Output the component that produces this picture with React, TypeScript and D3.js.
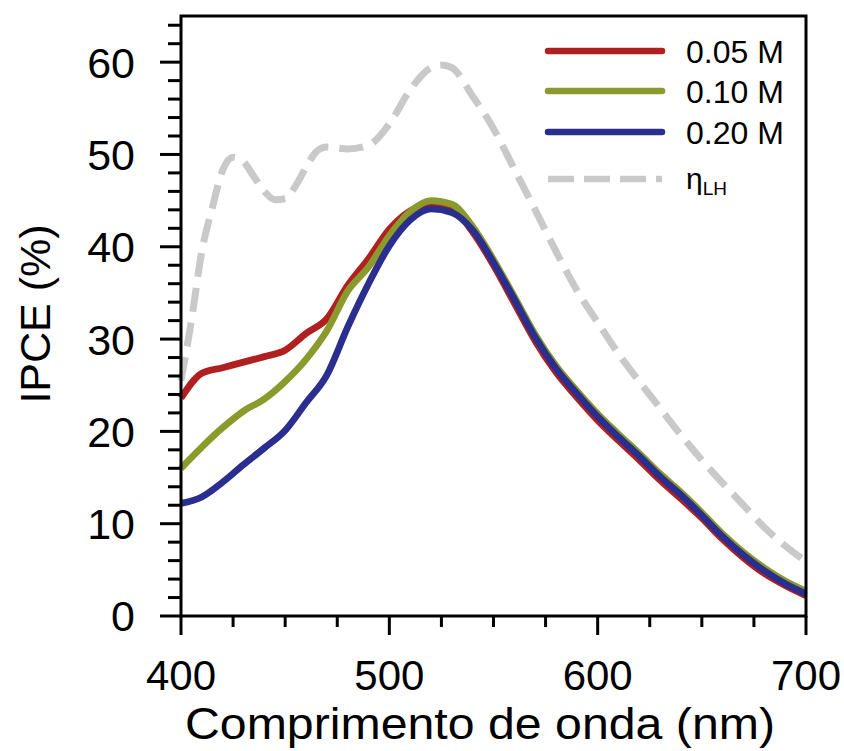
import React from "react";
import * as d3 from "d3";

const wavelengths = [400, 410, 420, 430, 440, 450, 460, 470, 480, 490, 500, 510, 520, 530, 540, 550, 560, 570, 580, 590, 600, 610, 620, 630, 640, 650, 660, 670, 680, 690, 700];
const ipce005 = [23.6, 26.3, 26.9, 27.5, 28.1, 28.8, 30.6, 32.2, 35.8, 38.7, 41.9, 43.9, 44.7, 44.2, 41.6, 38.0, 33.9, 29.8, 26.4, 23.7, 21.2, 19.0, 16.9, 14.7, 12.7, 10.6, 8.3, 6.3, 4.6, 3.3, 2.2];
const ipce010 = [16.0, 18.3, 20.4, 22.2, 23.5, 25.4, 27.8, 30.9, 35.2, 37.8, 41.2, 43.8, 45.0, 44.6, 42.2, 38.6, 34.6, 30.5, 27.1, 24.4, 21.9, 19.7, 17.6, 15.4, 13.4, 11.2, 8.9, 6.9, 5.2, 3.8, 2.7];
const ipce020 = [12.2, 12.9, 14.5, 16.4, 18.2, 20.1, 23.1, 26.1, 31.3, 36.0, 40.1, 42.9, 44.1, 43.7, 41.8, 38.3, 34.3, 30.2, 26.8, 24.1, 21.6, 19.4, 17.3, 15.1, 13.1, 10.9, 8.6, 6.6, 4.9, 3.5, 2.4];

const lhWavelengths = [400, 405, 410, 415, 420, 425, 430, 435, 440, 445, 450, 455, 460, 465, 470, 480, 490, 500, 510, 520, 525, 530, 540, 550, 560, 570, 580, 590, 600, 610, 620, 630, 640, 650, 660, 670, 680, 690, 700];
const etaLH = [25.5, 32.0, 39.5, 44.2, 48.3, 49.7, 49.2, 47.6, 46.0, 45.1, 45.2, 46.6, 48.6, 50.3, 50.8, 50.6, 51.0, 53.3, 57.0, 59.4, 59.7, 59.4, 56.3, 52.8, 48.4, 44.0, 39.5, 35.3, 31.8, 28.4, 25.4, 22.5, 19.6, 16.9, 14.4, 12.0, 9.6, 7.6, 5.9];

const seriesNames = ["0.05 M", "0.10 M", "0.20 M"];
const seriesColors = ["#B02020", "#8A9A2C", "#2A2E8E"];
const lhColor = "#C9C9C9";

const xTickLabels = [400, 500, 600, 700];
const yTickLabels = [0, 10, 20, 30, 40, 50, 60];

const W = 844;
const H = 751;
const FONT = "Liberation Sans, Arial, sans-serif";

export default function App() {
  const x = d3.scaleLinear().domain([400, 700]).range([181, 806]);
  const y = d3.scaleLinear().domain([0, 65]).range([616, 16]);

  const series = [ipce005, ipce010, ipce020];
  const line = d3
    .line<[number, number]>()
    .x((d) => x(d[0]))
    .y((d) => y(d[1]))
    .curve(d3.curveMonotoneX);

  const xMinor = d3.range(400, 701, 25);
  const yMinor = d3.range(0, 65, 2);

  const legendRows = [51, 91, 132];

  return (
    <div style={{ position: "absolute", left: 0, top: 0 }}>
      <svg width={W} height={H} style={{ display: "block", background: "#fff" }}>
        <rect x={0} y={0} width={W} height={H} fill="#fff" />
        <path
          d={line(lhWavelengths.map((w, i) => [w, etaLH[i]]) as [number, number][]) || ""}
          fill="none"
          stroke={lhColor}
          strokeWidth={7}
          strokeDasharray="24 11"
        />
        {series.map((s, k) => (
          <path
            key={k}
            d={line(wavelengths.map((w, i) => [w, s[i]]) as [number, number][]) || ""}
            fill="none"
            stroke={seriesColors[k]}
            strokeWidth={6.8}
            strokeLinejoin="round"
          />
        ))}
        <rect x={x(400)} y={y(65)} width={x(700) - x(400)} height={y(0) - y(65)} fill="none" stroke="#000" strokeWidth={3} />
        {xMinor.map((v) => {
          const major = v % 100 === 0;
          return (
            <line key={"xt" + v} x1={x(v)} x2={x(v)} y1={y(0)} y2={y(0) + (major ? 19 : 11)} stroke="#000" strokeWidth={3} />
          );
        })}
        {yMinor.map((v) => {
          const major = v % 10 === 0;
          return (
            <line key={"yt" + v} x1={x(400)} x2={x(400) - (major ? 21 : 13)} y1={y(v)} y2={y(v)} stroke="#000" strokeWidth={3} />
          );
        })}
        {xTickLabels.map((v) => (
          <text key={"xl" + v} x={x(v)} y={690} textAnchor="middle" fontFamily={FONT} fontSize={42} fill="#000">
            {v}
          </text>
        ))}
        {yTickLabels.map((v) => (
          <text key={"yl" + v} x={135} y={y(v)} dy="0.36em" textAnchor="end" fontFamily={FONT} fontSize={43} fill="#000">
            {v}
          </text>
        ))}
        <text
          x={480}
          y={739}
          textAnchor="middle"
          fontFamily={FONT}
          fontSize={44}
          fill="#000"
          textLength={590}
          lengthAdjust="spacingAndGlyphs"
        >
          Comprimento de onda (nm)
        </text>
        <text
          transform={`translate(50,314) rotate(-90)`}
          textAnchor="middle"
          fontFamily={FONT}
          fontSize={43}
          fill="#000"
        >
          IPCE (%)
        </text>
        {seriesNames.map((n, k) => (
          <g key={"lg" + k}>
            <line x1={548} x2={662} y1={legendRows[k]} y2={legendRows[k]} stroke={seriesColors[k]} strokeWidth={6.5} strokeLinecap="round" />
            <text x={686} y={legendRows[k] + 12} fontFamily={FONT} fontSize={32} fill="#000">
              {n}
            </text>
          </g>
        ))}
        <line x1={548} x2={662} y1={179} y2={179} stroke={lhColor} strokeWidth={6.5} strokeDasharray="26 10" />
        <text x={686} y={189} fontFamily={FONT} fontSize={30} fill="#000">
          η
          <tspan fontSize={19} dy={6}>LH</tspan>
        </text>
      </svg>
    </div>
  );
}
